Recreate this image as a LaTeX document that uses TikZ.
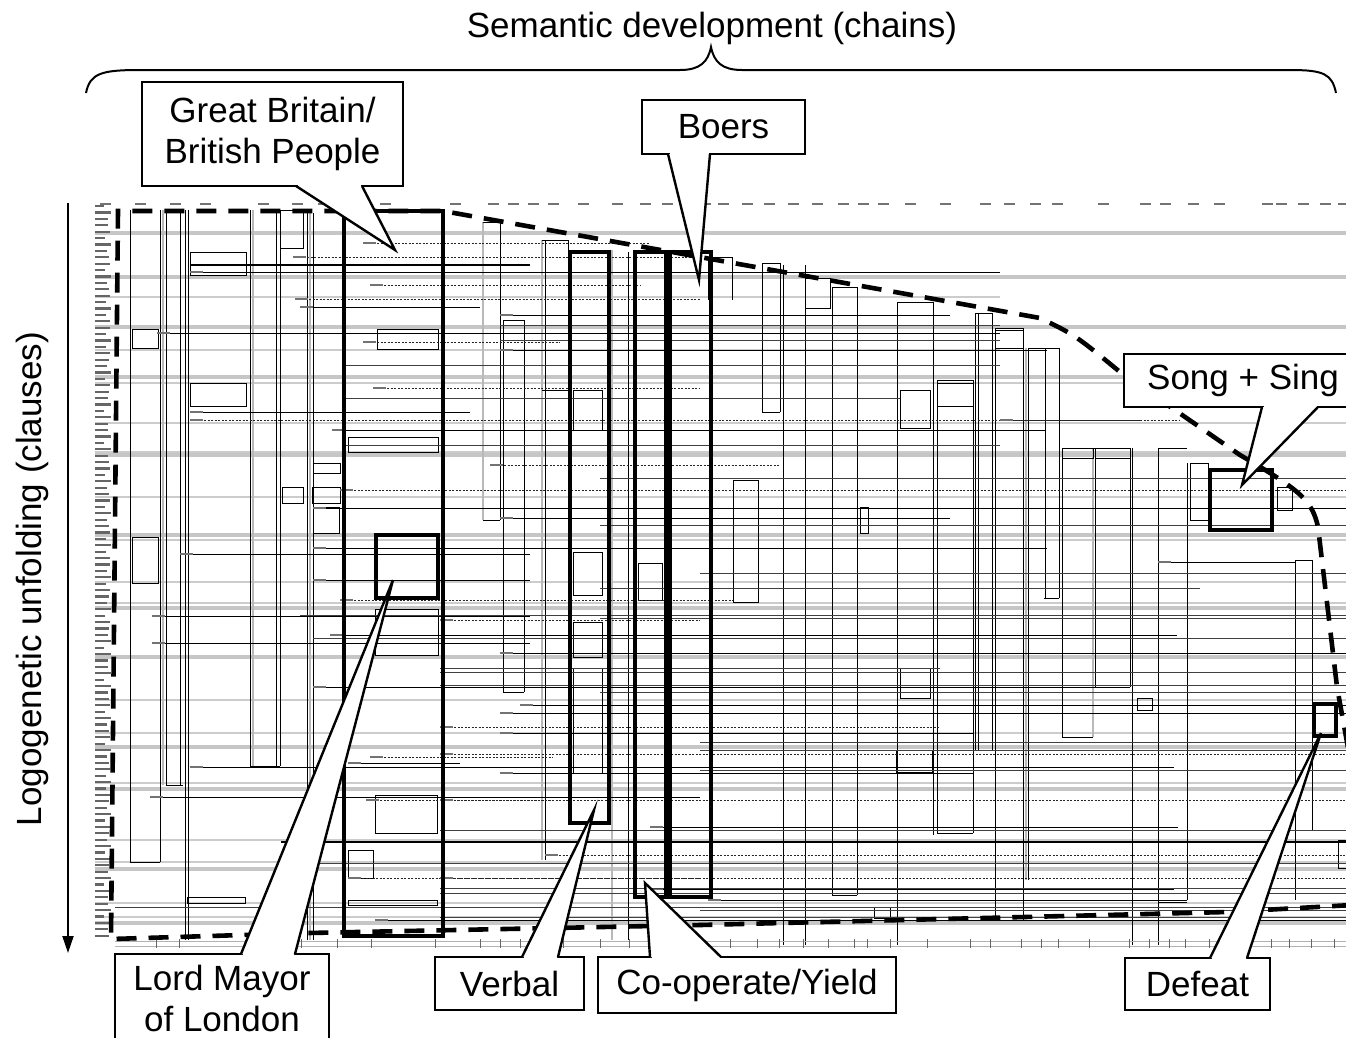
\documentclass[tikz,border=0pt]{standalone}
\usepackage{fontspec}
\setmainfont{Liberation Sans}
\usetikzlibrary{arrows.meta,calc}
\begin{document}
\begin{tikzpicture}[x=1pt,y=-1pt,
  chl/.style={black, line width=0.8pt},
  chlb/.style={black!75, line width=0.7pt},
  blob/.style={black!55, line width=2.2pt},
  gband/.style={gray!45, line width=4.5pt},
  gthinl/.style={gray!40, line width=1.8pt},
  gvert/.style={gray!55, line width=2.6pt},
  dotl/.style={black!85, line width=0.9pt, dash pattern=on 2pt off 1.5pt},
  hlbox/.style={line width=4.6pt},
  envl/.style={line width=4.6pt, dash pattern=on 20pt off 12pt},
  callout/.style={draw, line width=2.4pt, fill=white, inner sep=0pt, align=center, font=\fontsize{35}{41}\selectfont},
  ptr/.style={line width=2.4pt, line join=miter},
  bigtext/.style={font=\fontsize{35}{42}\selectfont, inner sep=0pt}
]
\useasboundingbox (0,0) rectangle (1346,1037);
\fill[white] (0,0) rectangle (1346,1037);

% ---------- chart texture ----------
\foreach \y in {233,277,327,377,455,535,608,657,747,789,869,923}
  \draw[gband] (95,\y) -- (1346,\y);
\foreach \y in {383,423,452,497,540,582,603,700,733,783,840,862,903,917}
  \draw[gthinl] (95,\y) -- (1346,\y);
\foreach \y in {297,350}
  \draw[gthinl] (95,\y) -- (1000,\y);

% row labels (tiny text blobs)
\foreach \i in {0,...,114}{
  \pgfmathsetmacro\yy{206+6.4*\i}
  \pgfmathsetmacro\ll{9+7*abs(sin(\i*73))}
  \draw[black!60, line width=2.2pt] (95,\yy) -- ++(\ll,0);
}
% column headers (tiny text blobs)
\foreach \x in {100,135,170,200,258,292,318,380,450,488,508,528,548,578,612,640,662,680,700,718,742,764,788,812,838,858,878,905,940,980,1004,1030,1052,1098,1140,1160,1188,1214,1262,1276,1298,1320,1338}
  \draw[black!55, line width=1.5pt] (\x,204) -- ++(11,0);

% gray vertical chains
\foreach \x/\a/\b in {163/210/785,310/210/940,483/222/520,542/240/860,1093/448/737,253/210/766,612/250/940,1026/348/880}
  \draw[gvert] (\x,\a) -- (\x,\b);

% thin vertical chain lines
\foreach \x/\a/\b in {130/210/862,160/210/862,166/210/785,180/210/785,185/210/940,188/210/940,250/210/766,276/210/766,280/210/766,307/210/940,313/213/940,500/222/520,503/320/692,524/320/692,545/240/860,568/240/390,628/252/940,708/257/300,732/257/300,762/263/412,780/263/412,783/265/945,805/265/945,832/287/895,857/287/895,897/302/945,933/302/835,937/380/833,975/313/750,978/313/750,992/313/750,995/328/920,1023/328/920,1028/348/880,1045/348/598,1059/348/598,1062/448/737,1095/448/687,1130/448/687,1132/448/945,1158/448/945,1187/463/900,1190/463/520,1208/463/520,1295/560/900,1312/560/830,973/380/833}
  \draw[chl] (\x,\a) -- (\x,\b);

% box tops / bottoms
\foreach \a/\b/\y in {130/160/862,166/183/785,250/280/766,762/780/412,1044/1059/598,1062/1093/737,1093/1130/687,975/992/750,937/973/833,832/857/895,1158/1187/902,1190/1208/520,1295/1312/830,483/500/520,503/524/692,542/568/390,762/780/263,832/857/287,897/933/302,975/992/313,995/1023/328,1028/1059/348,1062/1130/448,1190/1208/463,1295/1312/560,1158/1187/448,937/973/380,542/568/240,483/500/222,503/524/320,708/732/257}
  \draw[chl] (\a,\y) -- (\b,\y);

% small boxes
\foreach \a/\b/\c/\d in {190/252/246/275,132/329/158/348,190/383/246/406,280/210/303/248,377/329/438/349,348/437/438/452,313/463/340/473,132/537/158/583,282/487/303/503,312/487/340/503,313/507/339/533,375/609/438/655,573/390/602/430,805/278/830/308,573/552/602/595,573/622/602/657,573/668/602/773,638/563/662/600,733/480/758/602,900/668/930/698,900/390/930/428,937/383/973/406,937/733/973/773,1137/698/1152/710,860/507/868/533,874/907/890/918,348/850/373/878,375/795/437/833,348/900/437/905,896/750/932/772,187/897/245/903,1338/840/1350/868,1277/487/1292/510,995/330/1023/348,1062/448/1093/458,1095/448/1130/458}
  \draw[chl] (\a,\b) rectangle (\c,\d);

% long horizontal lines
\foreach \a/\b/\y in {190/1000/272,157/1000/333,332/1045/430,300/480/307,190/470/412,500/950/315,500/1047/350,313/1346/508,500/950/518,313/1047/548,1158/1295/562,330/1177/635,500/1346/653,313/1130/687,520/1346/705,500/1346/713,500/950/733,190/1174/767,500/950/773,650/1178/827,650/1174/889,708/1187/900,150/700/797,348/460/763,152/530/616,152/530/643,180/530/554,313/530/580,375/1346/920}
  {\draw[chl] (\a,\y) -- (\b,\y); \draw[blob] (\a,\y) -- ++(13,0);}
% secondary horizontal lines
\foreach \a/\b/\y in {300/1346/615,313/1346/638,440/940/668,440/1346/672,440/1346/685,600/1346/692,700/1346/742,700/1346/750,700/1346/770,440/1346/830,300/1346/863,440/1346/888,440/1346/893,115/1346/907,700/1346/910,440/1346/917,500/1000/325,500/1000/340,600/1346/478,600/1346/525,700/1346/573,600/1200/588,345/1000/365,345/900/398,345/1000/445,600/1346/618}
  \draw[chlb] (\a,\y) -- (\b,\y);
\draw[black, line width=1.6pt] (190,265) -- (530,265);
\draw[black, line width=1.6pt] (281,842) -- (1346,842);

% dotted horizontal lines
\foreach \a/\b/\y in {190/1140/420,363/650/243,293/700/257,370/640/285,295/700/299,363/560/342,373/700/388,490/780/465,340/1346/490,340/733/600,545/1346/855,366/553/800,370/553/757,348/700/878,440/700/620,440/940/727,440/1346/754,440/1346/800,440/1346/878,1000/1180/420}
  {\draw[dotl] (\a,\y) -- (\b,\y); \draw[blob] (\a,\y) -- ++(13,0);}

% bottom axis
\draw[gray!60, line width=1pt] (115,941) -- (1346,941);
\draw[gray!60, line width=1pt] (115,946) -- (1346,946);
\foreach \x in {156,179,301,337,371,435,480,500,520,542,563,600,629,661,730,757,779,803,828,854,867,890,927,970,990,1021,1041,1058,1089,1129,1149,1169,1185,1209,1231,1247,1271,1289,1311,1334}
  \draw[black!60, line width=0.8pt] (\x,939) -- (\x,948);

% ---------- dashed envelope ----------
\draw[envl] (1352,905) -- (1227,912) -- (700,925) -- (308,933) -- (111,939) -- (118,211) -- (443,211) -- (1040,318)
  .. controls (1075,335) .. (1120,372) -- (1240,455)
  .. controls (1300,490) and (1312,500) .. (1318,527) -- (1337,687) -- (1352,770);

% ---------- highlighted chains ----------
\draw[hlbox] (344,211) rectangle (443,936);
\draw[hlbox] (376,535) rectangle (438,598);
\draw[hlbox] (570,252) rectangle (609,823);
\draw[hlbox] (635,252) rectangle (666,897);
\draw[hlbox] (670,252) rectangle (711,897);
\draw[hlbox] (1210,470) rectangle (1272,530);
\draw[hlbox] (1314,704) rectangle (1336,736);

% ---------- axes labels ----------
\node[bigtext] (title) at (712,28) {Semantic development (chains)};
\draw[line width=2pt] (86,93) .. controls (90,73) and (102,70) .. (140,70) -- (680,70)
  .. controls (700,70) and (708,62) .. (711,47) .. controls (714,62) and (722,70) .. (742,70)
  -- (1290,70) .. controls (1324,70) and (1332,74) .. (1336,93);
\coordinate (atop) at (68,203);
\coordinate (abot) at (68,953);
\draw[line width=2pt, -{Triangle[width=11pt,length=17pt]}] (atop) -- (abot);
\node[bigtext, rotate=90] (ylab) at (32,579) {Logogenetic unfolding (clauses)};

% ---------- callouts ----------
% Great Britain
\node[callout, minimum width=261pt, minimum height=104pt] (gb) at (272.5,134) {Great Britain/\\British People};
\coordinate (gbL) at (296,186); \coordinate (gbR) at (362,186); \coordinate (gbT) at (395,250);
\fill[white] (gbL) -- (gbT) -- (gbR) -- cycle;
\fill[white] ($(gbL)+(1.5,-2.5)$) rectangle ($(gbR)+(-1.5,1)$);
\draw[ptr] (gbL) -- (gbT) -- (gbR);

% Boers
\node[callout, minimum width=163pt, minimum height=54pt] (boers) at (723.5,127) {Boers};
\coordinate (boL) at (668,154); \coordinate (boR) at (710,154); \coordinate (boT) at (699,280);
\fill[white] (boL) -- (boT) -- (boR) -- cycle;
\fill[white] ($(boL)+(1.5,-2.5)$) rectangle ($(boR)+(-1.5,1)$);
\draw[ptr] (boL) -- (boT) -- (boR);

% Song + Sing
\node[callout, minimum width=238pt, minimum height=53pt] (song) at (1243,380.5) {Song + Sing};
\coordinate (soL) at (1262,407); \coordinate (soR) at (1318,407); \coordinate (soT) at (1242,485);
\fill[white] (soL) -- (soT) -- (soR) -- cycle;
\fill[white] ($(soL)+(1.5,-2.5)$) rectangle ($(soR)+(-1.5,1)$);
\draw[ptr] (soL) -- (soT) -- (soR);

% Lord Mayor
\node[callout, minimum width=214pt, minimum height=88pt] (lm) at (222,998) {Lord Mayor\\of London};
\coordinate (lmL) at (241,954); \coordinate (lmR) at (295,954); \coordinate (lmT) at (393,580);
\fill[white] (lmL) -- (lmT) -- (lmR) -- cycle;
\fill[white] ($(lmL)+(1.5,-1)$) rectangle ($(lmR)+(-1.5,2.5)$);
\draw[ptr] (lmL) -- (lmT) -- (lmR);

% Verbal
\node[callout, minimum width=149pt, minimum height=53pt] (verbal) at (509.5,983.5) {Verbal};
\coordinate (veL) at (522,957); \coordinate (veR) at (558,957); \coordinate (veT) at (594,810);
\fill[white] (veL) -- (veT) -- (veR) -- cycle;
\fill[white] ($(veL)+(1.5,-1)$) rectangle ($(veR)+(-1.5,2.5)$);
\draw[ptr] (veL) -- (veT) -- (veR);

% Co-operate/Yield
\node[callout, minimum width=298pt, minimum height=56pt] (coop) at (747,985) {Co-operate/Yield};
\coordinate (coL) at (650,957); \coordinate (coR) at (721,957); \coordinate (coT) at (645,883);
\fill[white] (coL) -- (coT) -- (coR) -- cycle;
\fill[white] ($(coL)+(1.5,-1)$) rectangle ($(coR)+(-1.5,2.5)$);
\draw[ptr] (coL) -- (coT) -- (coR);

% Defeat
\node[callout, minimum width=145pt, minimum height=52pt] (defeat) at (1197.5,984) {Defeat};
\coordinate (deL) at (1210,958); \coordinate (deR) at (1247,958); \coordinate (deT) at (1321,733);
\fill[white] (deL) -- (deT) -- (deR) -- cycle;
\fill[white] ($(deL)+(1.5,-1)$) rectangle ($(deR)+(-1.5,2.5)$);
\draw[ptr] (deL) -- (deT) -- (deR);
\end{tikzpicture}
\end{document}
